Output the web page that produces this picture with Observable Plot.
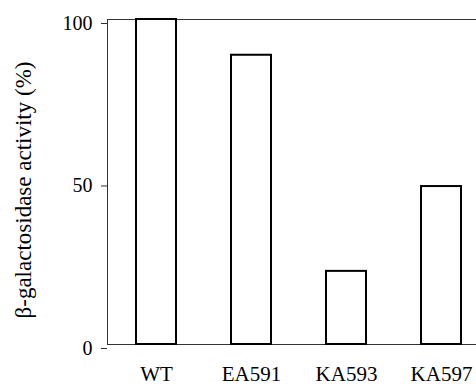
<!DOCTYPE html>
<html>
<head>
<meta charset="utf-8">
<script src="https://cdn.jsdelivr.net/npm/d3@7"></script>
<script src="https://cdn.jsdelivr.net/npm/@observablehq/plot@0.6"></script>
<style>
html, body { margin: 0; padding: 0; overflow: hidden; background: white; }
#chart svg { max-width: none !important; font-family: "Liberation Serif", "Times New Roman", serif !important; }
#chart svg text { font-family: "Liberation Serif", "Times New Roman", serif !important; }
</style>
</head>
<body>
<div id="chart"></div>
<script>
const categories = ["WT", "EA591", "KA593", "KA597"];
const activity = [100, 89, 22.5, 48.6];
const yTicks = [0, 50, 100];
const yLabel = "β-galactosidase activity (%)";
const serif = "'Liberation Serif', 'Times New Roman', serif";

const data = categories.map((c, i) => ({strain: c, value: activity[i]}));

const chart = Plot.plot({
  width: 500,
  height: 387,
  marginLeft: 107,
  marginRight: 10,
  marginTop: 19,
  marginBottom: 43,
  style: {fontFamily: serif, background: "white", overflow: "hidden"},
  x: {domain: categories, paddingInner: 0.58, paddingOuter: 0.305},
  y: {domain: [0, 100]},
  marks: [
    Plot.frame({stroke: "#333", strokeWidth: 1}),
    Plot.barY(data, {x: "strain", y: "value", fill: "white", stroke: "black", strokeWidth: 2}),
    Plot.axisY({ticks: yTicks, tickSize: 6, tickPadding: 9, fontSize: 20, fontFamily: serif, dy: 4, label: null, stroke: "#333"}),
    Plot.axisX({tickSize: 0, tickPadding: 22, fontSize: 21, fontFamily: serif, label: null}),
    Plot.text([yLabel], {frameAnchor: "left", textAnchor: "middle", dx: -84, dy: 8, rotate: -90, fontSize: 23, fontFamily: serif, fill: "black"})
  ]
});
document.getElementById("chart").appendChild(chart);
</script>
</body>
</html>
